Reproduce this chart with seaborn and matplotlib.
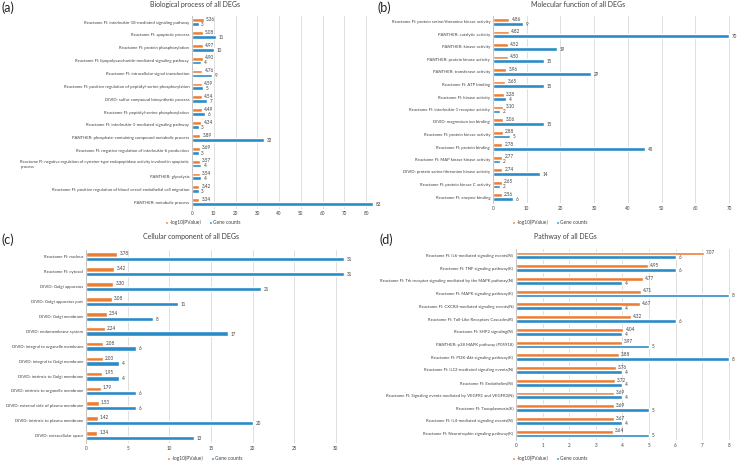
import pandas as pd
import seaborn as sns
import matplotlib.pyplot as plt

# ---- data ----
LOG_LABEL = '-log10(PValue）'
COUNT_LABEL = 'Gene counts'

bp_terms = [
    'Reactome FI: interleukin-18-mediated signaling pathway',
    'Reactome FI: apoptotic process',
    'Reactome FI: protein phosphorylation',
    'Reactome FI: lipopolysaccharide-mediated signaling pathway',
    'Reactome FI: intracellular signal transduction',
    'Reactome FI: positive regulation of peptidyl-serine phosphorylation',
    'DIVID: sulfur compound biosynthetic process',
    'Reactome FI: peptidyl-serine phosphorylation',
    'Reactome FI: interleukin-1-mediated signaling pathway',
    'PANTHER: phosphate-containing compound metabolic process',
    'Reactome FI: negative regulation of interleukin-6 production',
    'Reactome FI: negative regulation of cysteine-type endopeptidase activity involved in apoptotic\nprocess',
    'PANTHER: glycolysis',
    'Reactome FI: positive regulation of blood vessel endothelial cell migration',
    'PANTHER: metabolic process',
]
bp_logp = [5.36, 5.08, 4.97, 4.90, 4.76, 4.59, 4.54, 4.49, 4.34, 3.89, 3.69, 3.57, 3.54, 3.42, 3.34]
bp_counts = [3, 11, 10, 4, 9, 5, 7, 6, 3, 33, 3, 4, 4, 3, 83]

mf_terms = [
    'Reactome FI: protein serine/threonine kinase activity',
    'PANTHER: catalytic activity',
    'PANTHER: kinase activity',
    'PANTHER: protein kinase activity',
    'PANTHER: transferase activity',
    'Reactome FI: ATP binding',
    'Reactome FI: kinase activity',
    'Reactome FI: interleukin-1 receptor activity',
    'DIVID: magnesium ion binding',
    'Reactome FI: protein kinase activity',
    'Reactome FI: protein binding',
    'Reactome FI: MAP kinase kinase activity',
    'DIVID: protein serine/threonine kinase activity',
    'Reactome FI: protein kinase C activity',
    'Reactome FI: enzyme binding',
]
mf_logp = [4.86, 4.82, 4.52, 4.50, 3.96, 3.65, 3.28, 3.10, 3.06, 2.88, 2.78, 2.77, 2.74, 2.65, 2.56]
mf_counts = [9, 70, 19, 15, 29, 15, 4, 2, 15, 5, 45, 2, 14, 2, 6]

cc_terms = [
    'Reactome FI: nucleus',
    'Reactome FI: cytosol',
    'DIVID: Golgi apparatus',
    'DIVID: Golgi apparatus part',
    'DIVID: Golgi membrane',
    'DIVID: endomembrane system',
    'DIVID: integral to organelle membrane',
    'DIVID: integral to Golgi membrane',
    'DIVID: intrinsic to Golgi membrane',
    'DIVID: intrinsic to organelle membrane',
    'DIVID: external side of plasma membrane',
    'DIVID: intrinsic to plasma membrane',
    'DIVID: extracellular space',
]
cc_logp = [3.78, 3.42, 3.30, 3.08, 2.54, 2.24, 2.08, 2.03, 1.95, 1.79, 1.53, 1.42, 1.34]
cc_counts = [31, 31, 21, 11, 8, 17, 6, 4, 4, 6, 6, 20, 13]

pw_terms = [
    'Reactome FI: IL6-mediated signaling events(N)',
    'Reactome FI: TNF signaling pathway(K)',
    'Reactome FI: Trk receptor signaling mediated by the MAPK pathway(N)',
    'Reactome FI: MAPK signaling pathway(K)',
    'Reactome FI: CXCR4-mediated signaling events(N)',
    'Reactome FI: Toll-Like Receptors Cascades(R)',
    'Reactome FI: SHP2 signaling(N)',
    'PANTHER: p38 MAPK pathway (P05918)',
    'Reactome FI: PI3K-Akt signaling pathway(K)',
    'Reactome FI: IL12-mediated signaling events(N)',
    'Reactome FI: Endothelins(N)',
    'Reactome FI: Signaling events mediated by VEGFR1 and VEGFR2(N)',
    'Reactome FI: Toxoplasmosis(K)',
    'Reactome FI: IL4-mediated signaling events(N)',
    'Reactome FI: Neurotrophin signaling pathway(K)',
]
pw_logp = [7.07, 4.95, 4.77, 4.71, 4.67, 4.32, 4.04, 3.97, 3.88, 3.76, 3.72, 3.69, 3.69, 3.67, 3.64]
pw_counts = [6, 6, 4, 8, 4, 6, 4, 5, 8, 4, 4, 4, 5, 4, 5]

ORANGE = '#ED7D31'
BLUE = '#2A8BC9'
TEXT = '#404040'

sns.set_theme(style='white')
plt.rcParams['font.family'] = ['Lato', 'Noto Sans CJK SC', 'DejaVu Sans']

fig = plt.figure(figsize=(7.4, 4.66), dpi=100)
W, H = 740, 466


def px_axes(left, top, right, bottom):
    # helper: axes rect from pixel box
    return fig.add_axes([left / W, 1 - bottom / H, (right - left) / W, (bottom - top) / H])


def draw_panel(ax, terms, logp, counts, xmax, step, title, title_xy, letter, letter_xy, leg_xy):
    df = pd.DataFrame({
        'term': terms + terms,
        'metric': [LOG_LABEL] * len(terms) + [COUNT_LABEL] * len(terms),
        'value': logp + counts,
    })
    sns.barplot(data=df, y='term', x='value', hue='metric', orient='h',
                palette=[ORANGE, BLUE], width=0.6, saturation=1, ax=ax)

    # value labels
    for bar, v in zip(ax.containers[0], logp):
        ax.annotate(f'{v:.2f}', (bar.get_width(), bar.get_y() + bar.get_height() * 0.3),
                    xytext=(1.5, 0), textcoords='offset points', va='center',
                    fontsize=3.3, color=TEXT, annotation_clip=False)
    for bar, v in zip(ax.containers[1], counts):
        ax.annotate(f'{v}', (bar.get_width(), bar.get_y() + bar.get_height() * 0.6),
                    xytext=(2, 0), textcoords='offset points', va='center',
                    fontsize=3.3, color=TEXT, annotation_clip=False)

    ax.set_xlim(0, xmax)
    ax.set_xticks(range(0, int(xmax) + 1, step))
    ax.set_xlabel('')
    ax.set_ylabel('')
    ax.xaxis.grid(True, color='#D9D9D9', lw=0.6)
    ax.set_axisbelow(True)
    for s in ['top', 'right', 'bottom']:
        ax.spines[s].set_visible(False)
    ax.spines['left'].set_color('#BFBFBF')
    ax.spines['left'].set_linewidth(0.6)
    ax.tick_params(axis='x', length=0, labelsize=3.3, colors=TEXT, pad=2)
    ax.tick_params(axis='y', length=0, labelsize=3.1, colors=TEXT, pad=2)
    for lab in ax.get_yticklabels():
        if '\n' in lab.get_text():
            lab.set_multialignment('left')
            lab.set_fontsize(2.95)

    handles, labels = ax.get_legend_handles_labels()
    ax.legend_.remove()
    fig.legend(handles, labels, loc='center', bbox_to_anchor=(leg_xy[0] / W, 1 - leg_xy[1] / H),
               ncol=2, frameon=False, fontsize=3.5, handlelength=0.6, handleheight=0.6,
               columnspacing=0.8, handletextpad=0.3, labelcolor=TEXT)

    fig.text(title_xy[0] / W, 1 - title_xy[1] / H, title, ha='center', va='center',
             fontsize=5, color=TEXT)
    fig.text(letter_xy[0] / W, 1 - letter_xy[1] / H, letter, ha='left', va='center',
             fontsize=9, color='#222222')


ax_a = px_axes(192, 15.6, 192 + 84 * 2.175, 208.6)
draw_panel(ax_a, bp_terms, bp_logp, bp_counts, 84, 10, 'Biological process of all DEGs',
           (195, 4.5), '(a)', (1, 8), (203, 222))

ax_b = px_axes(493, 15.75, 493 + 73 * 3.371, 203.25)
draw_panel(ax_b, mf_terms, mf_logp, mf_counts, 73, 10, 'Molecular function of all DEGs',
           (578, 4.5), '(b)', (377, 8), (550, 222))

ax_c = px_axes(86, 249.5, 86 + 34 * 8.333, 443.1)
draw_panel(ax_c, cc_terms, cc_logp, cc_counts, 34, 5, 'Cellular component of all DEGs',
           (191, 237), '(c)', (2, 240), (205, 458))

ax_d = px_axes(516, 249, 516 + 8.4 * 26.6, 440)
draw_panel(ax_d, pw_terms, pw_logp, pw_counts, 8.4, 1, 'Pathway of all DEGs',
           (565, 237), '(d)', (379, 240), (550, 458))

fig.savefig('out.png', dpi=100)
